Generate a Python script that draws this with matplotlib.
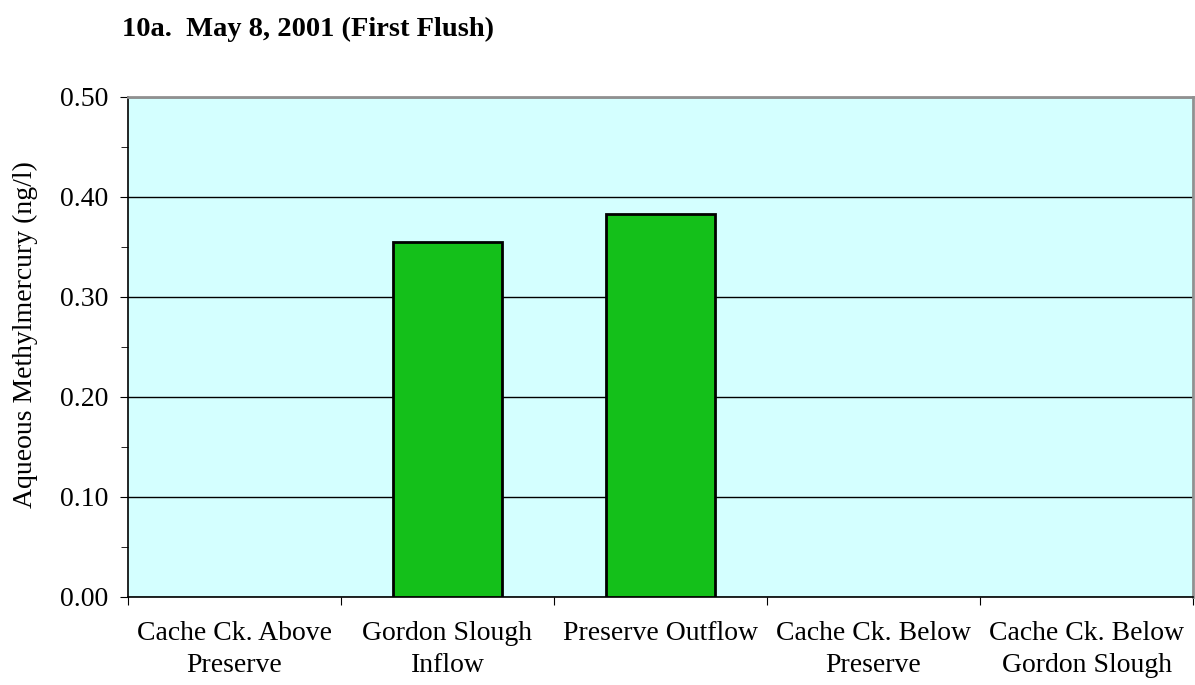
import matplotlib.pyplot as plt
from matplotlib.ticker import MultipleLocator, FixedLocator, NullFormatter

categories = ["Cache Ck. Above\nPreserve", "Gordon Slough\nInflow", "Preserve Outflow",
              "Cache Ck. Below\nPreserve", "Cache Ck. Below\nGordon Slough"]
values = [None, 0.355, 0.383, None, None]

plt.rcParams['font.family'] = ['Liberation Serif', 'DejaVu Serif']

fig = plt.figure(figsize=(11.95, 6.85), dpi=100)
ax = fig.add_axes([128 / 1195, 88 / 685, 1065 / 1195, 500 / 685])
ax.set_facecolor('#D4FFFF')

xs = [i for i, v in enumerate(values) if v is not None]
ys = [v for v in values if v is not None]
ax.bar(xs, ys, width=0.51, color='#14C01A', edgecolor='black', linewidth=2, zorder=3)

ax.set_xlim(-0.5, len(categories) - 0.5)
ax.set_ylim(0, 0.5)
ax.yaxis.set_major_locator(MultipleLocator(0.1))
ax.yaxis.set_minor_locator(MultipleLocator(0.05))
ax.yaxis.set_major_formatter(plt.FormatStrFormatter('%.2f'))
ax.grid(axis='y', which='major', color='black', linewidth=1, zorder=1)

ax.xaxis.set_major_locator(FixedLocator([i - 0.5 for i in range(len(categories) + 1)]))
ax.xaxis.set_major_formatter(NullFormatter())
ax.xaxis.set_minor_locator(FixedLocator(range(len(categories))))
ax.set_xticklabels(categories, minor=True, linespacing=1.4)
ax.tick_params(axis='x', which='minor', length=0, labelsize=20, pad=17)
ax.tick_params(axis='x', which='major', length=6, direction='out', color='black')
ax.tick_params(axis='y', which='major', length=6, labelsize=20, direction='out', pad=8)
ax.tick_params(axis='y', which='minor', length=5, direction='out')

for s in ['top', 'right']:
    ax.spines[s].set_color('#909090')
    ax.spines[s].set_linewidth(2)
ax.spines['left'].set_linewidth(1.2)
ax.spines['bottom'].set_linewidth(1.2)

ax.set_ylabel('Aqueous Methylmercury (ng/l)', fontsize=20, va='center')
ax.yaxis.set_label_coords(-0.0967, 0.524)
fig.text(122 / 1195, 1 - 29 / 685, '10a.  May 8, 2001 (First Flush)', fontsize=20.5,
         fontweight='bold', va='center', ha='left')

plt.savefig('out.png', dpi=100)
